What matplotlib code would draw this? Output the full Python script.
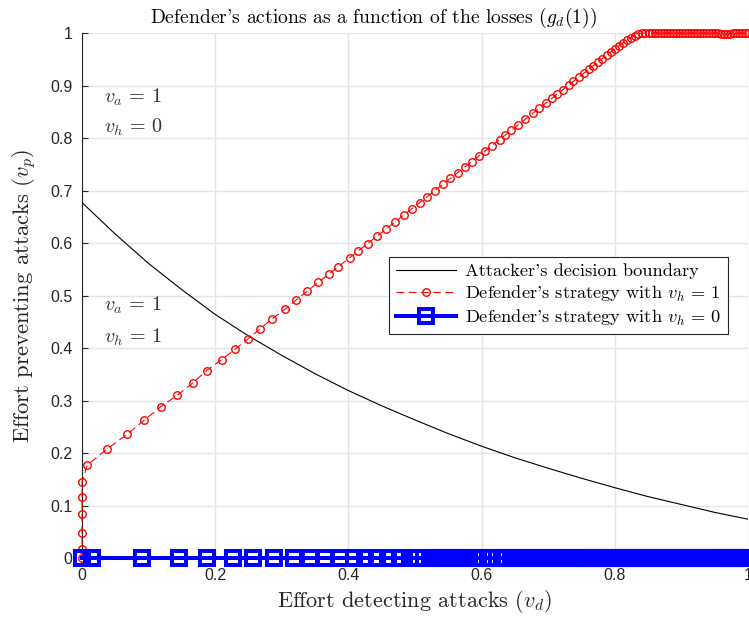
"""
Defender's actions as a function of the losses, MATLAB-style figure
"""
import matplotlib
matplotlib.use("Agg")
import matplotlib.pyplot as plt
from matplotlib.ticker import FormatStrFormatter

# attacker's decision boundary
boundary_vd = [0.0, 0.05, 0.1, 0.15, 0.2, 0.25, 0.3, 0.35, 0.4, 0.45, 0.5,
               0.55, 0.6, 0.65, 0.7, 0.75, 0.8, 0.85, 0.9, 0.95, 1.0]
boundary_vp = [0.677, 0.617, 0.561, 0.511, 0.464, 0.423, 0.386, 0.351, 0.319,
               0.290, 0.263, 0.237, 0.213, 0.191, 0.171, 0.152, 0.134, 0.117,
               0.102, 0.087, 0.074]

# defender's strategy with v_h = 1
def_h1_vd = [0.0, 0.0, 0.0, 0.0, 0.0, 0.0, 0.008,
             0.037, 0.068, 0.093, 0.118, 0.143, 0.167, 0.187, 0.21, 0.23, 0.25,
             0.267, 0.286, 0.305, 0.322, 0.338, 0.355, 0.371, 0.385, 0.402,
             0.415, 0.429, 0.443, 0.457, 0.470, 0.483, 0.495, 0.507, 0.518,
             0.530, 0.542, 0.553, 0.564, 0.575, 0.585, 0.596, 0.605, 0.615,
             0.627, 0.635, 0.645, 0.655, 0.666, 0.677, 0.687, 0.697, 0.706,
             0.714, 0.722, 0.731, 0.738, 0.746, 0.754, 0.761, 0.768, 0.775,
             0.781, 0.788, 0.794, 0.801, 0.807, 0.812, 0.818, 0.824, 0.830,
             0.835, 0.841, 0.846, 0.851, 0.856, 0.860, 0.865, 0.869, 0.874,
             0.878, 0.883, 0.887, 0.892, 0.896, 0.901, 0.905, 0.910, 0.914,
             0.919, 0.923, 0.928, 0.932, 0.937, 0.941, 0.946, 0.950, 0.955,
             0.959, 0.964, 0.968, 0.973, 0.977, 0.982, 0.986, 0.991, 0.995, 1.0]
def_h1_vp = [0.0, 0.018, 0.048, 0.083, 0.116, 0.145, 0.177,
             0.207, 0.236, 0.262, 0.288, 0.310, 0.334, 0.357, 0.378, 0.398,
             0.418, 0.436, 0.456, 0.474, 0.492, 0.508, 0.525, 0.541, 0.555,
             0.572, 0.585, 0.599, 0.613, 0.627, 0.640, 0.653, 0.665, 0.677,
             0.688, 0.700, 0.712, 0.723, 0.734, 0.745, 0.755, 0.766, 0.775,
             0.785, 0.797, 0.805, 0.815, 0.825, 0.836, 0.847, 0.857, 0.867,
             0.876, 0.884, 0.892, 0.901, 0.908, 0.916, 0.924, 0.931, 0.938,
             0.945, 0.951, 0.958, 0.964, 0.970, 0.976, 0.981, 0.986, 0.991,
             0.995, 0.998, 1.0, 1.0, 1.0, 1.0, 1.0, 1.0, 1.0, 1.0,
             1.0, 1.0, 1.0, 1.0, 1.0, 1.0, 1.0, 1.0, 1.0,
             1.0, 1.0, 1.0, 1.0, 1.0, 1.0, 1.0, 1.0, 1.0,
             0.999, 0.998, 0.998, 0.999, 1.0, 1.0, 1.0, 1.0, 1.0, 1.0]

# defender's strategy with v_h = 0
def_h0_vd = [0.0, 0.015, 0.09, 0.145, 0.187, 0.227, 0.257, 0.288, 0.318,
             0.343, 0.365, 0.388, 0.408, 0.425, 0.443, 0.46, 0.478, 0.493,
             0.505, 0.514, 0.523, 0.532, 0.540, 0.548, 0.556, 0.564, 0.572,
             0.580, 0.588, 0.595, 0.602, 0.609, 0.616, 0.623, 0.630, 0.637,
             0.644, 0.650, 0.656, 0.662, 0.668, 0.674, 0.680, 0.686, 0.692,
             0.698, 0.704, 0.710, 0.716, 0.722, 0.728, 0.734, 0.740, 0.746,
             0.752, 0.757, 0.762, 0.767, 0.772, 0.777, 0.782, 0.787, 0.792,
             0.797, 0.802, 0.807, 0.812, 0.817, 0.822, 0.827, 0.832, 0.837,
             0.842, 0.847, 0.852, 0.857, 0.862, 0.867, 0.872, 0.877, 0.882,
             0.887, 0.892, 0.897, 0.902, 0.907, 0.912, 0.917, 0.922, 0.927,
             0.932, 0.937, 0.942, 0.947, 0.952, 0.956, 0.960, 0.964, 0.968,
             0.972, 0.976, 0.980, 0.984, 0.988, 0.992, 0.996, 1.0]
def_h0_vp = [0.0] * len(def_h0_vd)

x_ticks = [0, 0.2, 0.4, 0.6, 0.8, 1]
y_ticks = [0, 0.1, 0.2, 0.3, 0.4, 0.5, 0.6, 0.7, 0.8, 0.9, 1]

plt.rcParams["font.family"] = "serif"
plt.rcParams["font.serif"] = ["cmr10"]
plt.rcParams["mathtext.fontset"] = "cm"
plt.rcParams["axes.formatter.use_mathtext"] = True

dark = "#262626"

fig = plt.figure(figsize=(7.49, 6.23), dpi=100)
ax = fig.add_axes([0.1095, 0.1043, 0.889, 0.8427])

ax.plot(boundary_vd, boundary_vp, color="black", lw=0.8,
        label="Attacker's decision boundary", zorder=3)
ax.plot(def_h1_vd, def_h1_vp, color="red", lw=0.8, ls=(0, (7, 4)),
        marker="o", ms=5.4, mew=1.0, mfc="none", clip_on=False,
        label=r"Defender's strategy with $v_h\,=\,1$", zorder=4)
ax.plot(def_h0_vd, def_h0_vp, color="blue", lw=2.9,
        marker="s", ms=9.4, mew=2.9, mfc="none", clip_on=False,
        label=r"Defender's strategy with $v_h\,=\,0$", zorder=5)

# regions
region_style = dict(fontsize=14.5, color="#333333", va="center")
ax.text(0.033, 0.878, r"$v_a\,=\,1$", **region_style)
ax.text(0.033, 0.821, r"$v_h\,=\,0$", **region_style)
ax.text(0.033, 0.482, r"$v_a\,=\,1$", **region_style)
ax.text(0.033, 0.421, r"$v_h\,=\,1$", **region_style)

ax.set_xlim(0, 1)
ax.set_ylim(0, 1)
ax.set_xticks(x_ticks)
ax.set_yticks(y_ticks)
ax.xaxis.set_major_formatter(FormatStrFormatter("%g"))
ax.yaxis.set_major_formatter(FormatStrFormatter("%g"))
for lab in ax.get_xticklabels() + ax.get_yticklabels():
    lab.set_fontfamily("Liberation Sans")
    lab.set_fontsize(11.5)
    lab.set_color(dark)
ax.tick_params(direction="in", length=4, width=0.8, color=dark, pad=7)

ax.grid(True, color="#e5e5e5", lw=1.0, zorder=0)
ax.set_axisbelow(True)
for side in ["top", "right"]:
    ax.spines[side].set_visible(False)
for side in ["left", "bottom"]:
    ax.spines[side].set_color(dark)
    ax.spines[side].set_linewidth(0.8)

ax.set_title(r"Defender's actions as a function of the losses $(g_d(1))$",
             fontsize=14.1, color="black", pad=7, x=0.437)
ax.set_xlabel(r"Effort detecting attacks $(v_d)$", fontsize=16, color=dark,
              labelpad=4)
ax.set_ylabel(r"Effort preventing attacks $(v_p)$", fontsize=16.3, color=dark,
              labelpad=8)

leg = ax.legend(loc="upper right", bbox_to_anchor=(0.970, 0.573),
                borderaxespad=0, fontsize=13.2, fancybox=False, framealpha=1,
                edgecolor=dark, handlelength=3.3, borderpad=0.35,
                labelspacing=0.22, handletextpad=0.5)
leg.get_frame().set_linewidth(0.8)

fig.savefig("out.png", dpi=100)
